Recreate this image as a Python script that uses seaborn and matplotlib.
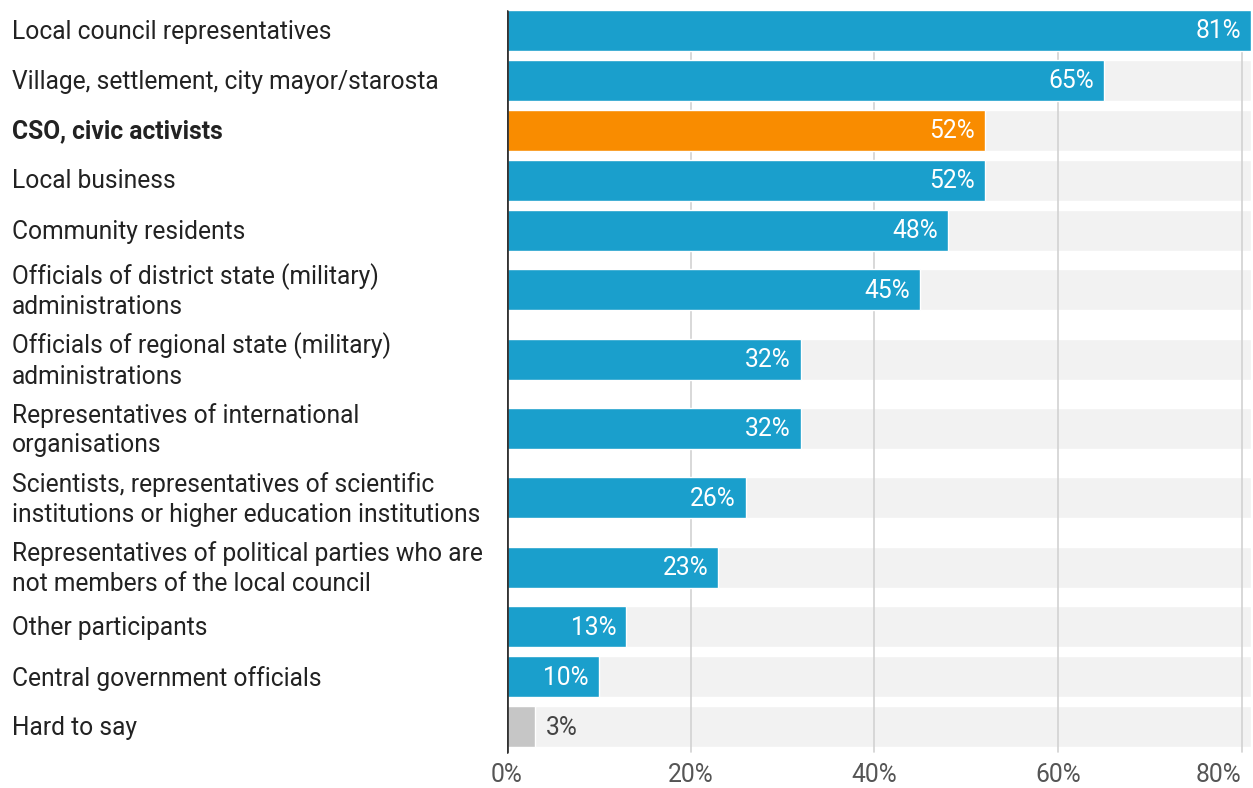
import matplotlib
matplotlib.use("Agg")
import matplotlib.pyplot as plt
import matplotlib.transforms as mtransforms
import numpy as np
import pandas as pd
import seaborn as sns

# Survey: who took part in local decision-making
categories = [
    "Local council representatives",
    "Village, settlement, city mayor/starosta",
    "CSO, civic activists",
    "Local business",
    "Community residents",
    "Officials of district state (military)\nadministrations",
    "Officials of regional state (military)\nadministrations",
    "Representatives of international\norganisations",
    "Scientists, representatives of scientific\ninstitutions or higher education institutions",
    "Representatives of political parties who are\nnot members of the local council",
    "Other participants",
    "Central government officials",
    "Hard to say",
]
values = [81, 65, 52, 52, 48, 45, 32, 32, 26, 23, 13, 10, 3]
highlight = "CSO, civic activists"
neutral = "Hard to say"
tick_values = [0, 20, 40, 60, 80]
tick_labels = ["0%", "20%", "40%", "60%", "80%"]

BLUE = "#1a9fcc"
ORANGE = "#f98c00"
GREY_BAR = "#c6c6c6"
BAND = "#f2f2f2"
GRID = "#d2d2d2"
TEXT = "#222222"
FS = 17.7

W, H, DPI = 1253, 788, 100
sns.set_theme(style="white")
plt.rcParams["font.family"] = ["Roboto", "DejaVu Sans"]

# Row layout in pixel units: two-line labels get taller rows
ROW_SINGLE, ROW_DOUBLE, TOP = 50.0, 69.4, 5.0
heights = [ROW_DOUBLE if "\n" in c else ROW_SINGLE for c in categories]
centers = TOP + np.cumsum(heights) - np.array(heights) / 2
bottom = TOP + sum(heights)

xmax = max(values)
colors = [ORANGE if c == highlight else GREY_BAR if c == neutral else BLUE
          for c in categories]

df = pd.DataFrame({"label": categories, "value": values, "pos": centers,
                   "band": [xmax] * len(categories)})

fig = plt.figure(figsize=(W / DPI, H / DPI), dpi=DPI)
ax_left, ax_right = 507, 1251
ax_top, ax_bottom = 0, bottom + 5
ax = fig.add_axes([ax_left / W, 1 - ax_bottom / H,
                   (ax_right - ax_left) / W, (ax_bottom - ax_top) / H])

bar_width = 41 / ROW_SINGLE
# light background bands
sns.barplot(data=df, x="band", y="pos", orient="y", native_scale=True,
            color=BAND, width=bar_width, ax=ax, zorder=1, saturation=1)
# vertical grid lines
for t in tick_values[1:]:
    ax.axvline(t, ymin=0.007, ymax=0.985, color=GRID, lw=1.2, zorder=2)
# value bars
sns.barplot(data=df, x="value", y="pos", hue="label", orient="y",
            native_scale=True, palette=colors, width=bar_width, dodge=False,
            legend=False, ax=ax, zorder=3, saturation=1)

ax.set_xlim(0, xmax)
ax.set_ylim(ax_bottom, ax_top)
ax.axvline(0, ymin=0.007, ymax=0.985, color="#333333", lw=2, zorder=4)

# value labels
px = 1 / ((ax_right - ax_left) / xmax)
for v, y, c in zip(values, centers, categories):
    if v < 6:
        ax.text(v + 11 * px, y + 1, f"{v}%", color="#444444", fontsize=FS,
                ha="left", va="center", zorder=5)
    else:
        ax.text(v - 10 * px, y + 1, f"{v}%", color="white", fontsize=FS,
                ha="right", va="center", zorder=5)

# category labels on the left
trans = mtransforms.blended_transform_factory(fig.transFigure, ax.transData)
for c, y in zip(categories, centers):
    ax.text(12 / W, y + 1.5, c, transform=trans, ha="left", va="center",
            fontsize=FS, color=TEXT, linespacing=1.3,
            fontweight="bold" if c == highlight else "normal")

ax.set_yticks([])
ax.set_xticks(tick_values)
ax.set_xticklabels(tick_labels, fontsize=FS, color="#555555")
# keep the last tick label inside the figure
ax.get_xticklabels()[-1].set_horizontalalignment("right")
ax.tick_params(axis="x", length=0, pad=4)
ax.set_xlabel("")
ax.set_ylabel("")
for s in ax.spines.values():
    s.set_visible(False)

fig.savefig("out.png", dpi=DPI, facecolor="white")
